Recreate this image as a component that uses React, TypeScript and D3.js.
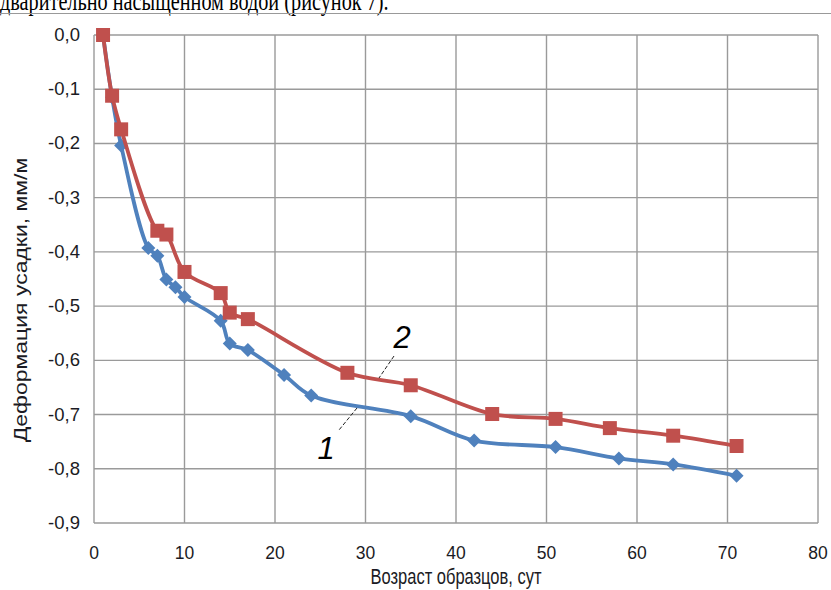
import React from "react";
import * as d3 from "d3";

const seriesRedX = [1, 2, 3, 7, 8, 10, 14, 15, 17, 28, 35, 44, 51, 57, 64, 71];
const seriesRedY = [0, -0.112, -0.174, -0.361, -0.368, -0.437, -0.476, -0.512, -0.524, -0.623, -0.646, -0.699, -0.708, -0.725, -0.739, -0.758];
const seriesBlueX = [1, 2, 3, 6, 7, 8, 9, 10, 14, 15, 17, 21, 24, 35, 42, 51, 58, 64, 71];
const seriesBlueY = [0, -0.115, -0.204, -0.393, -0.407, -0.451, -0.465, -0.483, -0.527, -0.569, -0.581, -0.627, -0.665, -0.703, -0.748, -0.76, -0.781, -0.792, -0.813];
const xTicks = [0, 10, 20, 30, 40, 50, 60, 70, 80];
const yTicks = [0, -0.1, -0.2, -0.3, -0.4, -0.5, -0.6, -0.7, -0.8, -0.9];

const W = 831, H = 590;
const left = 94, right = 818, top = 35, bottom = 523;

export default function App() {
  const x = d3.scaleLinear().domain([0, 80]).range([left, right]);
  const y = d3.scaleLinear().domain([0, -0.9]).range([top, bottom]);
  const line = d3.line<[number, number]>().x(d => x(d[0])).y(d => y(d[1])).curve(d3.curveCatmullRom.alpha(0.5));
  const red: [number, number][] = seriesRedX.map((v, i) => [v, seriesRedY[i]]);
  const blue: [number, number][] = seriesBlueX.map((v, i) => [v, seriesBlueY[i]]);
  const fmt = (v: number) => v.toFixed(1).replace(".", ",").replace("-0,0", "0,0");
  const font = "'Liberation Sans', Arial, sans-serif";
  const txt = "#1b1b24";
  return (
    <svg width={W} height={H} style={{ position: "absolute", left: 0, top: 0, background: "#fff" }}>
      <rect x={0} y={0} width={W} height={H} fill="#fff" />
      <text transform="translate(0,10) scale(0.75,1)" fontFamily="'Liberation Serif', 'Times New Roman', serif" fontSize={27} fill="#000">дварительно насыщенном водой (рисунок 7).</text>
      <line x1={0} x2={W} y1={13.5} y2={13.5} stroke="#999" strokeWidth={1} />
      {xTicks.map(t => (
        <line key={"gx" + t} x1={x(t)} x2={x(t)} y1={top} y2={bottom} stroke="#9a9a9a" strokeWidth={1.4} />
      ))}
      {yTicks.map(t => (
        <line key={"gy" + t} x1={left} x2={right} y1={y(t)} y2={y(t)} stroke="#9a9a9a" strokeWidth={1.4} />
      ))}
      {yTicks.map(t => (
        <text key={"ly" + t} x={80} y={y(t) + 6} textAnchor="end" fontFamily={font} fontSize={18.5} fill={txt}>{fmt(t)}</text>
      ))}
      {xTicks.map(t => (
        <text key={"lx" + t} x={x(t)} y={559} textAnchor="middle" fontFamily={font} fontSize={17.5} fill={txt}>{t}</text>
      ))}
      <text transform="translate(456,584) scale(0.75,1)" textAnchor="middle" fontFamily={font} fontSize={22} fill={txt}>Возраст образцов, сут</text>
      <text transform={`translate(27,300) rotate(-90) scale(1,0.78)`} textAnchor="middle" fontFamily={font} fontSize={23} fill={txt}>Деформация усадки, мм/м</text>
      <path d={line(blue) || ""} fill="none" stroke="#4F81BD" strokeWidth={3.8} />
      {blue.map((d, i) => (
        <path key={"b" + i} d="M0,-7L7,0L0,7L-7,0Z" transform={`translate(${x(d[0])},${y(d[1])})`} fill="#4F81BD" />
      ))}
      <path d={line(red) || ""} fill="none" stroke="#C0504D" strokeWidth={3.8} />
      {red.map((d, i) => (
        <rect key={"r" + i} x={x(d[0]) - 7} y={y(d[1]) - 7} width={14} height={14} fill="#C0504D" />
      ))}
      <line x1={394} y1={356} x2={379} y2={378} stroke="#222" strokeWidth={1} strokeDasharray="4,2" />
      <line x1={357} y1={408} x2={339} y2={430} stroke="#222" strokeWidth={1} strokeDasharray="4,2" />
      <text x={402} y={348} textAnchor="middle" fontFamily={font} fontStyle="italic" fontSize={31} fill="#000">2</text>
      <text x={326} y={459} textAnchor="middle" fontFamily={font} fontStyle="italic" fontSize={31} fill="#000">1</text>
    </svg>
  );
}
